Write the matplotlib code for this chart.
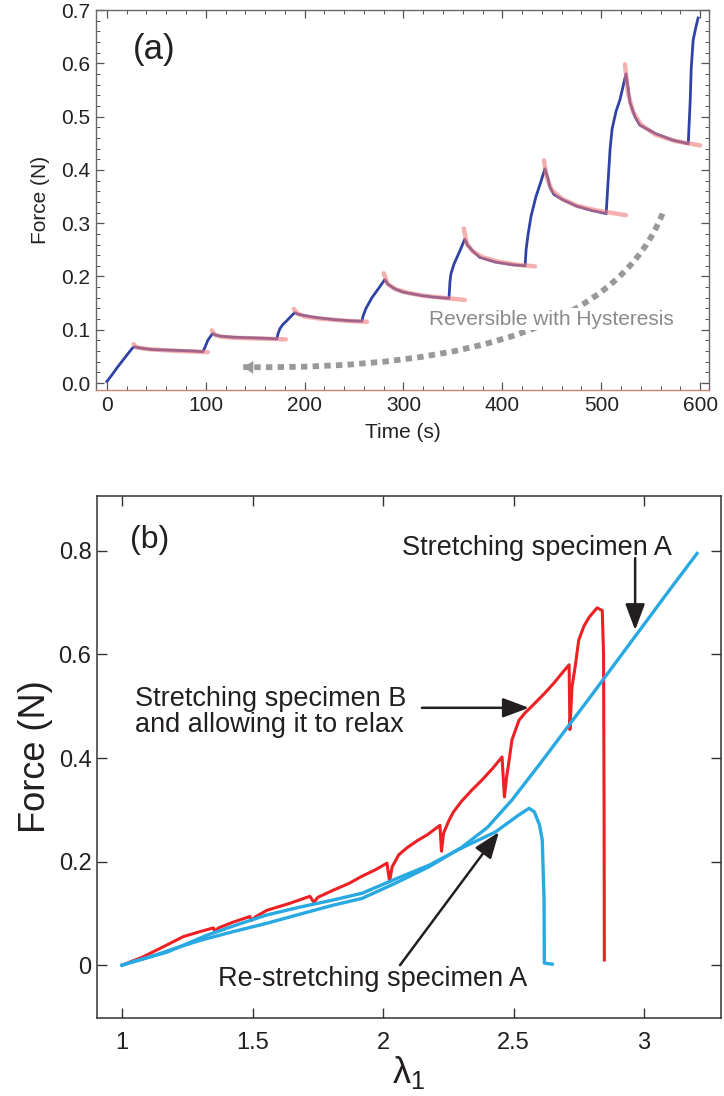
import matplotlib
matplotlib.use("Agg")
import matplotlib.pyplot as plt
from matplotlib.path import Path
from matplotlib.patches import PathPatch
from matplotlib.ticker import MultipleLocator

plt.rcParams['font.family'] = ['Liberation Sans', 'DejaVu Sans']

# ---- panel (a): force vs time, measured trace (blue) ----
time_a = [0, 5, 10, 15, 20, 26, 28,
          33, 45, 60, 75, 88, 97,
          99, 102, 105, 107,
          110, 115, 128, 145, 160, 172,
          173, 175, 178, 182, 186, 190,
          194, 199, 208, 216, 230, 245, 258,
          259, 262, 268, 275, 281,
          284, 290, 299, 310, 319, 332, 346,
          347, 348, 351, 357, 362,
          365, 370, 377, 393, 410, 423,
          424, 426, 429, 434, 439, 443,
          446, 448, 452, 461, 475, 490, 505,
          507, 509, 511, 515, 519, 525,
          527, 529, 534, 539, 555, 572, 588,
          590, 591, 593, 596, 598]
force_a = [0.003, 0.015, 0.028, 0.040, 0.052, 0.066, 0.068,
           0.066, 0.063, 0.062, 0.061, 0.060, 0.059,
           0.066, 0.080, 0.088, 0.093,
           0.090, 0.088, 0.086, 0.085, 0.084, 0.083,
           0.092, 0.102, 0.110, 0.117, 0.125, 0.132,
           0.129, 0.127, 0.124, 0.122, 0.119, 0.117, 0.116,
           0.125, 0.140, 0.160, 0.178, 0.194,
           0.186, 0.178, 0.171, 0.167, 0.164, 0.161, 0.159,
           0.190, 0.205, 0.223, 0.248, 0.270,
           0.258, 0.248, 0.236, 0.227, 0.222, 0.220,
           0.250, 0.279, 0.313, 0.350, 0.378, 0.402,
           0.385, 0.368, 0.354, 0.344, 0.332, 0.324, 0.318,
           0.380, 0.440, 0.477, 0.510, 0.532, 0.580,
           0.556, 0.527, 0.500, 0.484, 0.468, 0.456, 0.449,
           0.530, 0.590, 0.644, 0.670, 0.685]

# relaxation fits (red), one list per hold
fit_t = [[27, 30, 40, 55, 75, 90, 102],
         [106, 109, 115, 128, 145, 165, 181],
         [189, 193, 200, 215, 235, 250, 263],
         [280, 284, 292, 305, 320, 340, 362],
         [361, 364, 370, 380, 395, 415, 433],
         [442, 445, 450, 460, 475, 495, 525],
         [524, 527, 532, 540, 555, 575, 600]]
fit_f = [[0.073, 0.067, 0.064, 0.062, 0.060, 0.059, 0.058],
         [0.099, 0.091, 0.087, 0.085, 0.084, 0.083, 0.082],
         [0.139, 0.130, 0.125, 0.121, 0.118, 0.116, 0.115],
         [0.206, 0.186, 0.176, 0.169, 0.164, 0.160, 0.156],
         [0.290, 0.262, 0.247, 0.236, 0.228, 0.222, 0.219],
         [0.418, 0.385, 0.362, 0.346, 0.333, 0.324, 0.315],
         [0.598, 0.545, 0.510, 0.485, 0.466, 0.454, 0.446]]

# dotted "reversible" arrow: start, control, end (time, force)
hyst_t = [562, 498, 138]
hyst_f = [0.318, 0.020, 0.030]

# ---- panel (b): force vs stretch ----
red_lam = [1.0, 1.08, 1.16, 1.234, 1.30, 1.35, 1.355, 1.37, 1.425, 1.49, 1.495,
           1.51, 1.555, 1.64, 1.72, 1.735, 1.75, 1.81, 1.87, 1.92, 1.97, 2.015, 2.025,
           2.035, 2.06, 2.09, 2.13, 2.17, 2.218, 2.224, 2.232, 2.253, 2.27, 2.30,
           2.34, 2.38, 2.42, 2.456, 2.465, 2.474, 2.483, 2.494, 2.521, 2.544, 2.582,
           2.621, 2.655, 2.686, 2.713, 2.716, 2.724, 2.736, 2.75, 2.77, 2.79, 2.82,
           2.84, 2.845, 2.847, 2.848]
red_force = [0.0, 0.016, 0.036, 0.055, 0.065, 0.072, 0.066, 0.072, 0.083, 0.094, 0.086,
             0.093, 0.106, 0.119, 0.133, 0.121, 0.131, 0.145, 0.158, 0.172, 0.184, 0.197,
             0.162, 0.190, 0.213, 0.226, 0.240, 0.252, 0.270, 0.220, 0.255, 0.280, 0.296,
             0.316, 0.338, 0.358, 0.380, 0.402, 0.325, 0.365, 0.395, 0.435, 0.473, 0.487,
             0.506, 0.526, 0.545, 0.564, 0.580, 0.455, 0.537, 0.576, 0.628, 0.655, 0.672,
             0.690, 0.685, 0.600, 0.300, 0.010]

stretchA_lam = [1.0, 1.107, 1.20, 1.30, 1.42, 1.555, 1.70, 1.81, 1.92, 2.046, 2.176,
                2.30, 2.40, 2.494, 2.60, 2.70, 2.80, 2.90, 3.00, 3.10, 3.203]
stretchA_force = [0.0, 0.016, 0.032, 0.048, 0.064, 0.081, 0.101, 0.116, 0.129, 0.158, 0.190,
                  0.227, 0.266, 0.319, 0.388, 0.455, 0.522, 0.590, 0.658, 0.726, 0.795]

restretch_lam = [1.0, 1.05, 1.172, 1.326, 1.44, 1.555, 1.68, 1.81, 1.92, 2.046, 2.176,
                 2.30, 2.43, 2.52, 2.56, 2.58, 2.60, 2.61, 2.617, 2.618, 2.648]
restretch_force = [0.0, 0.008, 0.025, 0.058, 0.078, 0.097, 0.112, 0.126, 0.139, 0.166, 0.193,
                   0.226, 0.257, 0.290, 0.303, 0.296, 0.270, 0.242, 0.126, 0.004, 0.002]

fig = plt.figure(figsize=(7.24, 10.96), dpi=100)

# ================= (a) =================
ax1 = fig.add_axes([96/724, 1-390/1096, 613/724, 380/1096])
ax1.plot(time_a, force_a, color='#2f43a6', lw=2.0, zorder=3)
for ts, fs in zip(fit_t, fit_f):
    ax1.plot(ts, fs, color='#f07a7a', lw=3.2, alpha=0.6, solid_capstyle='round', zorder=4)

ax1.set_xlim(-11, 609)
ax1.set_ylim(-0.013, 0.70)
ax1.set_xticks([0, 100, 200, 300, 400, 500, 600])
ax1.set_yticks([0.0, 0.1, 0.2, 0.3, 0.4, 0.5, 0.6, 0.7])
ax1.set_yticklabels(['0.0', '0.1', '0.2', '0.3', '0.4', '0.5', '0.6', '0.7'])
ax1.xaxis.set_minor_locator(MultipleLocator(20))
ax1.yaxis.set_minor_locator(MultipleLocator(0.02))
ax1.tick_params(which='both', direction='in', top=True, right=True, colors='#555555',
                labelcolor='#222222', labelsize=15)
ax1.tick_params(which='major', length=6, width=0.9)
ax1.tick_params(which='minor', length=3, width=0.7)
ax1.tick_params(axis='x', pad=4)
ax1.tick_params(axis='y', pad=4)
for s in ax1.spines.values():
    s.set_color('#666666')
    s.set_linewidth(1.0)
ax1.spines['bottom'].set_color('#c98474')
ax1.set_xlabel('Time (s)', fontsize=15, labelpad=6, color='#222222')
ax1.set_ylabel('Force (N)', fontsize=15, labelpad=8, color='#222222')
ax1.text(0.095, 0.895, '(a)', transform=ax1.transAxes, fontsize=25,
         ha='center', va='center', color='#222222')

# dotted curved arrow
verts = list(zip(hyst_t, hyst_f))
hyst_path = Path(verts, [Path.MOVETO, Path.CURVE3, Path.CURVE3])
ax1.add_patch(PathPatch(hyst_path, fill=False, edgecolor='#999999', lw=4.2,
                        linestyle=(0, (1.1, 0.9)), capstyle='butt', zorder=2))
ax1.annotate('', xy=(hyst_t[2], hyst_f[2]), xytext=(hyst_t[2] + 12, hyst_f[2] - 0.0005),
             arrowprops=dict(arrowstyle='-|>,head_length=0.7,head_width=0.45',
                             color='#999999', lw=0.1, shrinkA=0, shrinkB=0), zorder=2)
ax1.text(0.544, 0.186, 'Reversible with Hysteresis', transform=ax1.transAxes,
         fontsize=15, color='#8a8a8a', ha='left', va='center', zorder=5,
         bbox=dict(facecolor='white', edgecolor='none', pad=1))

# ================= (b) =================
ax2 = fig.add_axes([97/724, 1-1018/1096, 624/724, 522/1096])
blue = '#29a9e1'
red = '#ed2024'
ax2.plot(stretchA_lam, stretchA_force, color=blue, lw=2.4, zorder=3)
ax2.plot(restretch_lam, restretch_force, color=blue, lw=2.4, zorder=3)
ax2.plot(red_lam, red_force, color=red, lw=2.2, zorder=2)

ax2.set_xlim(0.904, 3.295)
ax2.set_ylim(-0.102, 0.906)
ax2.set_xticks([1, 1.5, 2, 2.5, 3])
ax2.set_xticklabels(['1', '1.5', '2', '2.5', '3'])
ax2.set_yticks([0, 0.2, 0.4, 0.6, 0.8])
ax2.set_yticklabels(['0', '0.2', '0.4', '0.6', '0.8'])
ax2.tick_params(direction='in', top=True, right=True, length=7, width=1.0,
                colors='#333333', labelcolor='#231f20', labelsize=17)
ax2.tick_params(axis='x', pad=10)
ax2.tick_params(axis='y', pad=4)
for s in ax2.spines.values():
    s.set_color('#333333')
    s.set_linewidth(1.1)
ax2.set_ylabel('Force (N)', fontsize=26, labelpad=4, color='#231f20')
ax2.set_xlabel(r'$\mathregular{\lambda_1}$', fontsize=26, labelpad=0, color='#231f20')
ax2.text(0.084, 0.915, '(b)', transform=ax2.transAxes, fontsize=23,
         ha='center', va='center', color='#231f20')

arrow_kw = dict(arrowstyle='-|>,head_length=0.8,head_width=0.3', color='#231f20',
                lw=1.8, shrinkA=0, shrinkB=0, mutation_scale=20)
ax2.text(2.588, 0.806, 'Stretching specimen A', fontsize=19.5, ha='center',
         va='center', color='#231f20')
ax2.annotate('', xy=(2.966, 0.647), xytext=(2.966, 0.786), arrowprops=arrow_kw)
ax2.text(1.05, 0.489, 'Stretching specimen B\nand allowing it to relax', fontsize=19.5,
         ha='left', va='center', linespacing=1.0, color='#231f20')
ax2.annotate('', xy=(2.559, 0.497), xytext=(2.149, 0.497), arrowprops=arrow_kw)
ax2.text(1.368, -0.027, 'Re-stretching specimen A', fontsize=19.5, ha='left',
         va='center', color='#231f20')
ax2.annotate('', xy=(2.444, 0.257), xytext=(2.065, 0.0), arrowprops=arrow_kw)

fig.savefig('out.png', dpi=100)
